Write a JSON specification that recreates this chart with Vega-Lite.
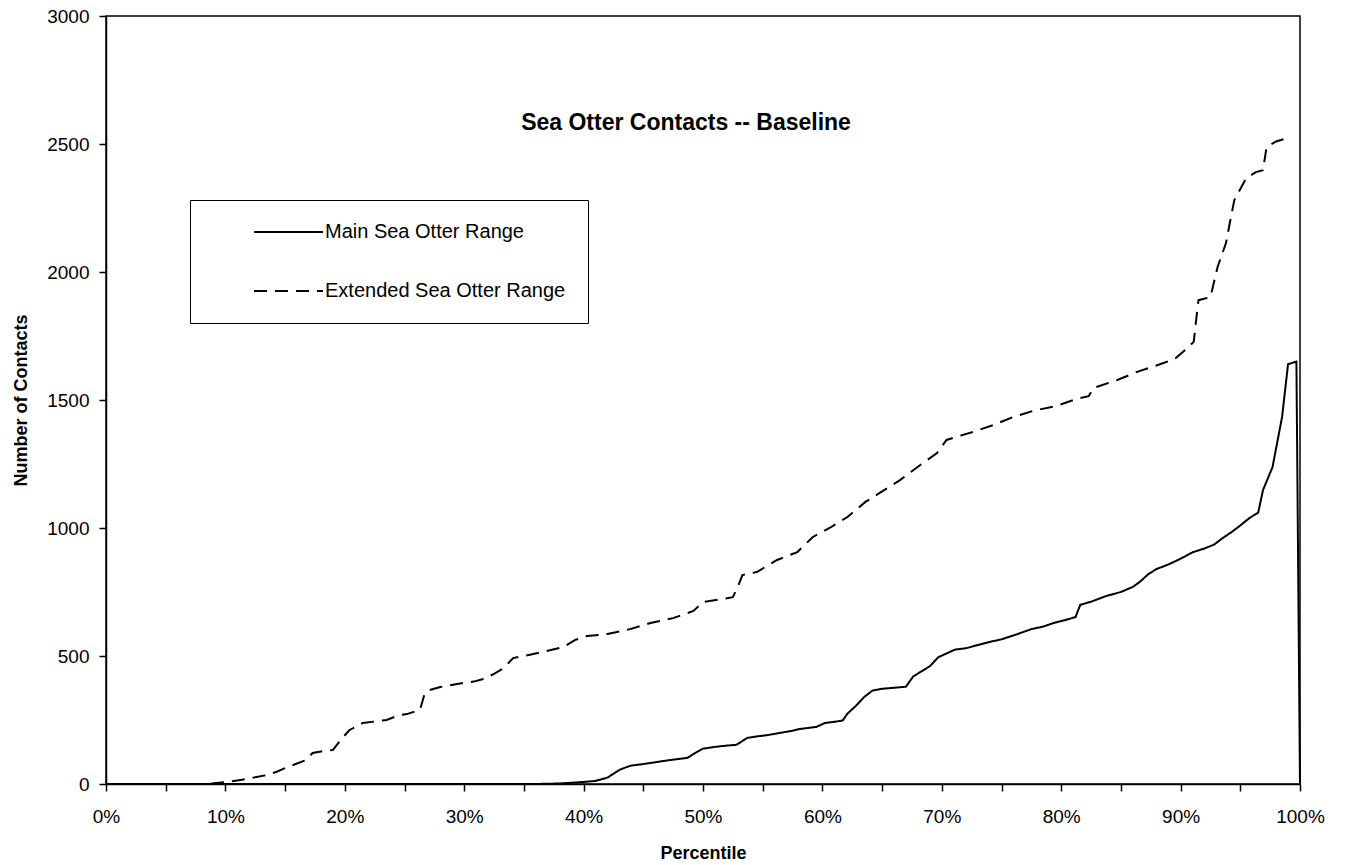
{
  "$schema": "https://vega.github.io/schema/vega-lite/v6.json",
  "width": 1194,
  "height": 768,
  "autosize": {"type": "none"},
  "padding": {"left": 106, "top": 16, "right": 46, "bottom": 81},
  "background": "white",
  "title": {"text": "Sea Otter Contacts -- Baseline", "fontSize": 23, "font": "Liberation Sans", "fontWeight": "bold", "color": "black", "anchor": "middle", "offset": -146, "baseline": "alphabetic", "dx": -17},
  "config": {
    "view": {"stroke": "black", "strokeWidth": 1.5},
    "font": "Liberation Sans",
    "axis": {"domainColor": "black", "tickColor": "black", "labelColor": "black", "titleColor": "black", "grid": false, "labelFontSize": 19, "titleFontSize": 18, "titleFontWeight": "bold", "tickSize": 7, "domainWidth": 1.5, "tickWidth": 1.5, "labelFont": "Liberation Sans", "titleFont": "Liberation Sans"}
  },
  "datasets": {
    "main": [
      {"p":0,"v":0},{"p":10,"v":0},{"p":20,"v":0},{"p":30,"v":0},{"p":36,"v":0},{"p":38,"v":2},{"p":40,"v":8},{"p":41,"v":12},{"p":42,"v":25},{"p":43,"v":55},{"p":43.6,"v":66},{"p":44,"v":72},{"p":45,"v":78},{"p":46,"v":85},{"p":47,"v":92},{"p":48,"v":98},{"p":48.7,"v":102},{"p":49.3,"v":120},{"p":50,"v":138},{"p":51,"v":145},{"p":52,"v":150},{"p":52.8,"v":153},{"p":53.7,"v":180},{"p":54.5,"v":186},{"p":55.4,"v":191},{"p":56.5,"v":200},{"p":57.5,"v":208},{"p":58.1,"v":215},{"p":59.5,"v":223},{"p":60.2,"v":238},{"p":61.3,"v":245},{"p":61.7,"v":248},{"p":62.1,"v":275},{"p":62.8,"v":305},{"p":63.5,"v":340},{"p":64.2,"v":365},{"p":65,"v":372},{"p":66,"v":376},{"p":67,"v":380},{"p":67.6,"v":420},{"p":68.3,"v":440},{"p":69,"v":460},{"p":69.7,"v":495},{"p":70.4,"v":510},{"p":71.1,"v":525},{"p":72,"v":530},{"p":73.2,"v":545},{"p":74,"v":555},{"p":75,"v":565},{"p":76.3,"v":585},{"p":77.5,"v":605},{"p":78.5,"v":615},{"p":79.3,"v":628},{"p":80.3,"v":640},{"p":81.2,"v":652},{"p":81.6,"v":700},{"p":82.5,"v":712},{"p":83.8,"v":735},{"p":85,"v":750},{"p":86,"v":770},{"p":86.6,"v":790},{"p":87.3,"v":820},{"p":88,"v":840},{"p":89,"v":858},{"p":90,"v":880},{"p":91,"v":905},{"p":92,"v":920},{"p":92.8,"v":935},{"p":93.5,"v":960},{"p":94.3,"v":985},{"p":95,"v":1010},{"p":95.8,"v":1040},{"p":96.5,"v":1060},{"p":96.9,"v":1148},{"p":97.7,"v":1238},{"p":98.5,"v":1434},{"p":99,"v":1640},{"p":99.7,"v":1650},{"p":100,"v":0}
    ],
    "ext": [
      {"p":0,"v":0},{"p":5,"v":0},{"p":8,"v":0},{"p":9,"v":3},{"p":10.1,"v":8},{"p":11,"v":14},{"p":11.8,"v":20},{"p":12.6,"v":27},{"p":13.5,"v":35},{"p":14.3,"v":48},{"p":15.2,"v":66},{"p":16,"v":80},{"p":16.8,"v":94},{"p":17.3,"v":121},{"p":18,"v":127},{"p":19,"v":133},{"p":19.8,"v":180},{"p":20.4,"v":211},{"p":21.5,"v":238},{"p":22.5,"v":244},{"p":23.5,"v":250},{"p":24.6,"v":270},{"p":25.2,"v":273},{"p":26.3,"v":290},{"p":26.7,"v":355},{"p":27.1,"v":367},{"p":28,"v":379},{"p":29.9,"v":395},{"p":30.8,"v":400},{"p":31.6,"v":410},{"p":32.5,"v":430},{"p":33.3,"v":453},{"p":34.1,"v":492},{"p":35.5,"v":505},{"p":36.6,"v":516},{"p":38.3,"v":535},{"p":39.3,"v":563},{"p":40.3,"v":578},{"p":42,"v":586},{"p":43.9,"v":605},{"p":45.6,"v":629},{"p":47.5,"v":648},{"p":49.2,"v":676},{"p":50,"v":711},{"p":51.3,"v":720},{"p":52.5,"v":730},{"p":52.9,"v":769},{"p":53.3,"v":816},{"p":54.5,"v":828},{"p":56.2,"v":875},{"p":57.9,"v":906},{"p":59.2,"v":965},{"p":60.6,"v":1000},{"p":62.1,"v":1043},{"p":63.6,"v":1102},{"p":64.8,"v":1137},{"p":66.5,"v":1187},{"p":68.2,"v":1246},{"p":69.6,"v":1293},{"p":70.4,"v":1344},{"p":71.5,"v":1360},{"p":72.6,"v":1375},{"p":74.3,"v":1402},{"p":76,"v":1434},{"p":77.6,"v":1457},{"p":79.6,"v":1477},{"p":81.3,"v":1504},{"p":82.3,"v":1515},{"p":82.7,"v":1547},{"p":84.7,"v":1578},{"p":86.3,"v":1609},{"p":88.1,"v":1637},{"p":89.5,"v":1660},{"p":90.5,"v":1700},{"p":91.1,"v":1727},{"p":91.3,"v":1812},{"p":91.5,"v":1890},{"p":92.5,"v":1902},{"p":93.1,"v":2020},{"p":93.8,"v":2113},{"p":94.2,"v":2211},{"p":94.5,"v":2281},{"p":95.5,"v":2367},{"p":96.3,"v":2390},{"p":96.9,"v":2398},{"p":97.2,"v":2488},{"p":98,"v":2510},{"p":99.2,"v":2527}
    ]
  },
  "layer": [
    {
      "data": {"name": "main"},
      "transform": [{"calculate": "'Main Sea Otter Range'", "as": "s"}],
      "mark": {"type": "line", "color": "black", "strokeWidth": 2},
      "encoding": {
        "x": {"field": "p", "type": "quantitative", "scale": {"domain": [0, 100], "nice": false},
          "axis": {"title": "Percentile", "values": [0,5,10,15,20,25,30,35,40,45,50,55,60,65,70,75,80,85,90,95,100], "labelExpr": "datum.value % 10 === 0 ? datum.value + '%' : ''", "labelPadding": 16, "titlePadding": 18, "labelOverlap": false, "labelFlush": false}},
        "y": {"field": "v", "type": "quantitative", "scale": {"domain": [0, 3000], "nice": false},
          "axis": {"title": "Number of Contacts", "format": "d", "values": [0,500,1000,1500,2000,2500,3000], "labelPadding": 10, "titlePadding": 16, "labelOverlap": false, "labelFlush": false}},
        "strokeDash": {"field": "s", "type": "nominal",
          "scale": {"domain": ["Main Sea Otter Range", "Extended Sea Otter Range"], "range": [[1, 0], [13, 8]]},
          "legend": {"orient": "none", "legendX": 84, "legendY": 184, "title": null, "symbolType": "stroke", "symbolSize": 4761, "symbolStrokeWidth": 2, "symbolStrokeColor": "black", "clipHeight": 20, "labelFontSize": 20, "labelColor": "black", "labelOffset": 1, "rowPadding": 39, "padding": 22, "symbolOffset": 41, "strokeColor": "black", "fillColor": "white", "labelLimit": 500}}
      }
    },
    {
      "data": {"name": "ext"},
      "transform": [{"calculate": "'Extended Sea Otter Range'", "as": "s"}],
      "mark": {"type": "line", "color": "black", "strokeWidth": 2},
      "encoding": {
        "x": {"field": "p", "type": "quantitative"},
        "y": {"field": "v", "type": "quantitative"},
        "strokeDash": {"field": "s", "type": "nominal"}
      }
    }
  ]
}
